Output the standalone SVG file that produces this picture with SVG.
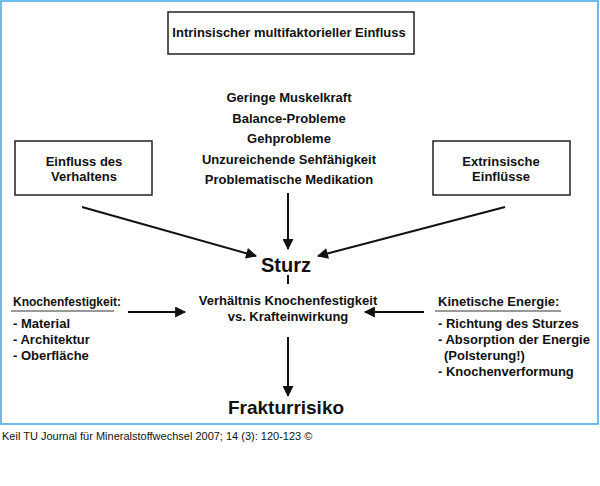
<svg xmlns="http://www.w3.org/2000/svg" width="600" height="486" viewBox="0 0 600 486">
<style>
text{font-family:"Liberation Sans",Arial,sans-serif;font-weight:bold;fill:#111;font-size:13px}
.c{text-anchor:middle}
.box{fill:#fff;stroke:#222;stroke-width:1.5}
.ln{stroke:#111;stroke-width:2;fill:none}
</style>
<defs><marker id="a" viewBox="0 0 10 10" refX="9" refY="5" markerWidth="7" markerHeight="6" orient="auto" markerUnits="userSpaceOnUse"><path d="M0,0 L10,5 L0,10 z" fill="#111"/></marker>
<marker id="b" viewBox="0 0 10 10" refX="9" refY="5" markerWidth="16" markerHeight="11" orient="auto" markerUnits="userSpaceOnUse"><path d="M0,0 L10,5 L0,10 z" fill="#111"/></marker></defs>
<rect x="0" y="0" width="600" height="486" fill="#fff"/>
<rect x="1" y="1" width="597" height="423" fill="none" stroke="#3aa6e8" stroke-width="1.5"/>
<g id="intrinsic"><rect class="box" x="168" y="12" width="246" height="42"/><text class="c" x="289" y="37">Intrinsischer multifaktorieller Einfluss</text></g>
<g id="list"><text class="c" x="289" y="102">Geringe Muskelkraft</text><text class="c" x="289" y="123">Balance-Probleme</text><text class="c" x="289" y="143">Gehprobleme</text><text class="c" x="289" y="164">Unzureichende Sehfähigkeit</text><text class="c" x="289" y="184">Problematische Medikation</text></g>
<g id="verhalten"><rect class="box" x="15" y="141" width="137" height="54"/><text class="c" x="84" y="166">Einfluss des</text><text class="c" x="84" y="181">Verhaltens</text></g>
<g id="extrinsisch"><rect class="box" x="433" y="141" width="137" height="54"/><text class="c" x="501" y="166">Extrinsische</text><text class="c" x="501" y="181">Einflüsse</text></g>
<g id="sturz"><text class="c" x="286" y="272" style="font-size:20px">Sturz</text></g>
<g id="verhaeltnis"><text class="c" x="288" y="305">Verhältnis Knochenfestigkeit</text><text class="c" x="288" y="321">vs. Krafteinwirkung</text></g>
<g id="knochen"><text x="13" y="306" style="font-size:12px">Knochenfestigkeit:</text><line x1="11" y1="311" x2="114" y2="311" stroke="#333"/><text x="13" y="328">- Material</text><text x="13" y="344">- Architektur</text><text x="13" y="360">- Oberfläche</text></g>
<g id="kinetik"><text x="438" y="306">Kinetische Energie:</text><line x1="435" y1="311" x2="561" y2="311" stroke="#333"/><text x="438" y="328">- Richtung des Sturzes</text><text x="438" y="344">- Absorption der Energie</text><text x="444" y="360">(Polsterung!)</text><text x="438" y="376">- Knochenverformung</text></g>
<g id="fraktur"><text class="c" x="286" y="414" style="font-size:19px">Frakturrisiko</text></g>
<g id="connectors">
<line class="ln" x1="82" y1="207" x2="256" y2="256" marker-end="url(#b)"/>
<line class="ln" x1="288" y1="193" x2="288" y2="249" marker-end="url(#b)"/>
<line class="ln" x1="505" y1="207" x2="318" y2="256" marker-end="url(#b)"/>
<line class="ln" x1="288" y1="275" x2="288" y2="284"/>
<line class="ln" x1="128" y1="312" x2="185" y2="312" marker-end="url(#b)"/>
<line class="ln" x1="424" y1="312" x2="365" y2="312" marker-end="url(#b)"/>
<line class="ln" x1="288" y1="337" x2="288" y2="396" marker-end="url(#b)"/>
</g>
<text x="2" y="440" style="font-weight:normal;font-size:11px">Keil TU Journal für Mineralstoffwechsel 2007; 14 (3): 120-123 ©</text>
</svg>
